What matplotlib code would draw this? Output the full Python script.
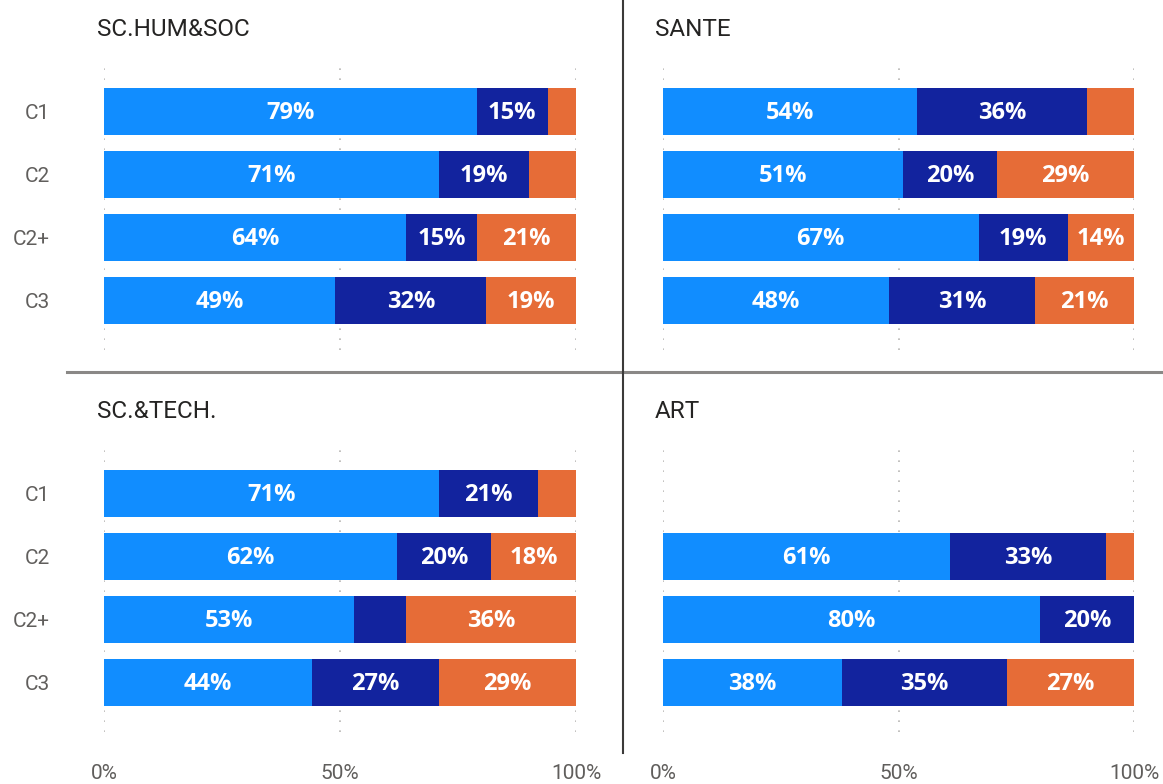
import matplotlib
matplotlib.use("Agg")
import matplotlib.pyplot as plt
from matplotlib.lines import Line2D

categories = ["C1", "C2", "C2+", "C3"]
panel_titles = ["SC.HUM&SOC", "SANTE", "SC.&TECH.", "ART"]
x_ticks = [0, 50, 100]
x_tick_labels = ["0%", "50%", "100%"]

hum_light = [79, 71, 64, 49]
hum_dark = [15, 19, 15, 32]
hum_orange = [6, 10, 21, 19]

sante_light = [54, 51, 67, 48]
sante_dark = [36, 20, 19, 31]
sante_orange = [10, 29, 14, 21]

tech_light = [71, 62, 53, 44]
tech_dark = [21, 20, 11, 27]
tech_orange = [8, 18, 36, 29]

art_light = [0, 61, 80, 38]
art_dark = [0, 33, 20, 35]
art_orange = [0, 6, 0, 27]

series_colors = ["#118DFF", "#12239E", "#E66C37"]
LABEL_MIN = 12

W, H = 1163, 784
fig = plt.figure(figsize=(W / 100, H / 100), dpi=100)
fig.patch.set_facecolor("white")

def fx(px):
    return px / W

def fy(py):
    return 1 - py / H

panels = [
    (panel_titles[0], [hum_light, hum_dark, hum_orange], 104, 576, 63, 350, 97, 30, True, False),
    (panel_titles[1], [sante_light, sante_dark, sante_orange], 663, 1134, 63, 350, 655, 30, False, False),
    (panel_titles[2], [tech_light, tech_dark, tech_orange], 104, 576, 445, 732, 97, 411, True, True),
    (panel_titles[3], [art_light, art_dark, art_orange], 663, 1134, 445, 732, 655, 411, False, True),
]

for title, series, x0, x1, y0, y1, tx, ty, show_y, show_x in panels:
    ax = fig.add_axes([fx(x0), fy(y1), fx(x1) - fx(x0), fy(y0) - fy(y1)])
    ax.set_xlim(0, 100)
    ax.set_ylim(3.79, -0.77)
    for s in ax.spines.values():
        s.set_visible(False)
    for xv in x_ticks:
        ax.axvline(xv, color="#b8b6b4", lw=1.2, ls=(0, (1, 5)), zorder=0)
    lefts = [0, 0, 0, 0]
    for vals, col in zip(series, series_colors):
        ax.barh(range(len(categories)), vals, left=lefts, height=0.75,
                color=col, edgecolor="none", zorder=2)
        for i, v in enumerate(vals):
            if v >= LABEL_MIN:
                ax.text(lefts[i] + v / 2, i + 0.03, f"{v}%", ha="center", va="center",
                        color="white", fontsize=17, fontweight="bold",
                        family="Open Sans", zorder=3)
        lefts = [l + v for l, v in zip(lefts, vals)]
    ax.set_yticks(range(len(categories)))
    if show_y:
        ax.set_yticklabels(categories, fontsize=15, color="#605E5C", family="Roboto")
    else:
        ax.set_yticklabels([])
    ax.tick_params(axis="y", length=0, pad=39)
    ax.set_xticks(x_ticks)
    if show_x:
        ax.set_xticklabels(x_tick_labels, fontsize=15, color="#605E5C", family="Roboto")
    else:
        ax.set_xticklabels([])
    ax.tick_params(axis="x", length=0, pad=23)
    fig.text(fx(tx), fy(ty), title, ha="left", va="center", fontsize=17.5,
             color="#252423", family="Roboto")

fig.add_artist(Line2D([fx(67), 1.0], [fy(372), fy(372)], color="#8a8886",
                      lw=2.2, transform=fig.transFigure))
fig.add_artist(Line2D([fx(623), fx(623)], [1.0, fy(753)], color="#3b3a39",
                      lw=1.5, transform=fig.transFigure))

fig.savefig("out.png", dpi=100, facecolor="white")
